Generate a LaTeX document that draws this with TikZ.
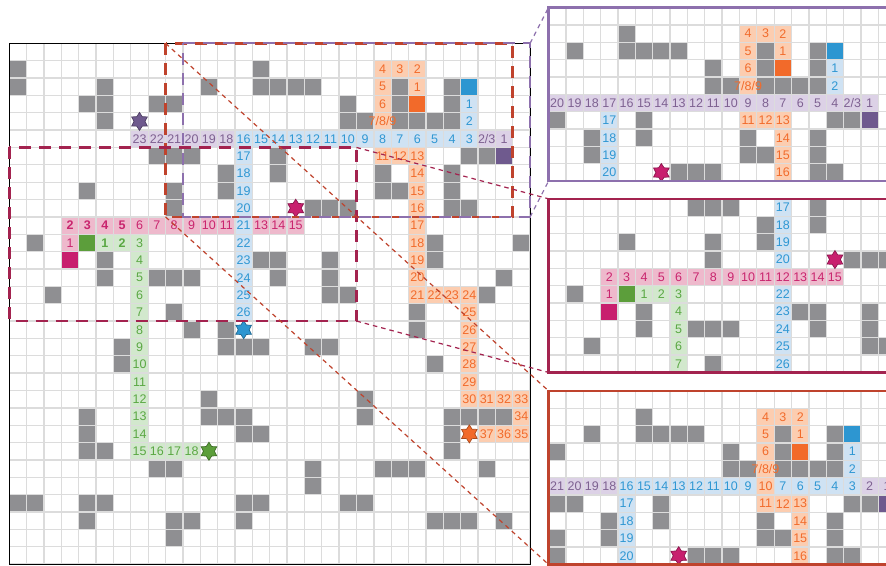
\documentclass[tikz,border=0pt]{standalone}
\usepackage{fontspec}
\setmainfont{Liberation Sans}
\usetikzlibrary{shapes.geometric}

\definecolor{wallgray}{HTML}{8F8F92}
\definecolor{gridgray}{HTML}{DCDCDC}
\definecolor{txpurple}{HTML}{7E6191}
\definecolor{bgpurple}{HTML}{DCD1E6}
\definecolor{fgpurple}{HTML}{6F5A8E}
\definecolor{txblue}{HTML}{2F97D3}
\definecolor{bgblue}{HTML}{CFE2F3}
\definecolor{fgblue}{HTML}{2D96D1}
\definecolor{txorange}{HTML}{F26B2B}
\definecolor{bgorange}{HTML}{FCCDB0}
\definecolor{fgorange}{HTML}{F26A2A}
\definecolor{txcrimson}{HTML}{C9256E}
\definecolor{bgcrimson}{HTML}{EEB9CC}
\definecolor{fgcrimson}{HTML}{C81F6E}
\definecolor{txgreen}{HTML}{5AA843}
\definecolor{bggreen}{HTML}{D2E8CD}
\definecolor{fggreen}{HTML}{5C9E3B}
\definecolor{boxred}{HTML}{BF432D}
\definecolor{boxcrimson}{HTML}{A3234F}
\definecolor{boxpurple}{HTML}{8D70AD}

\newcommand\twothree{2/3}
\newcommand\seveneightnine{7/8/9}

% obstacles (col/row), shared by all views
\def\walls{0/1,14/1,%
0/2,5/2,11/2,14/2,15/2,16/2,17/2,22/2,25/2,%
4/3,5/3,8/3,9/3,19/3,22/3,25/3,%
5/4,19/4,20/4,22/4,23/4,24/4,25/4,%
8/6,9/6,10/6,15/6,26/6,27/6,%
12/7,15/7,21/7,25/7,%
4/8,9/8,12/8,21/8,22/8,25/8,%
9/9,17/9,18/9,19/9,25/9,26/9,%
1/11,24/11,29/11,%
5/12,14/12,15/12,18/12,24/12,%
5/13,8/13,9/13,10/13,15/13,18/13,28/13,%
2/14,18/14,19/14,27/14,%
9/15,23/15,%
10/16,12/16,23/16,%
6/17,12/17,13/17,14/17,17/17,18/17,%
6/18,24/18,%
11/20,20/20,%
4/21,11/21,12/21,13/21,20/21,25/21,26/21,27/21,28/21,%
4/22,13/22,14/22,25/22,%
4/23,5/23,25/23,%
8/24,9/24,17/24,21/24,22/24,23/24,27/24,%
17/25,%
0/26,1/26,4/26,5/26,13/26,14/26,19/26,20/26,%
4/27,9/27,10/27,13/27,24/27,25/27,26/27,28/27,%
9/28}

% main map paths (col/row/label)
\def\mainPurple{7/5/23,8/5/22,9/5/21,10/5/20,11/5/19,12/5/18,27/5/\twothree,28/5/1}
\def\mainBlue{26/3/1,26/4/2,26/5/3,25/5/4,24/5/5,23/5/6,22/5/7,21/5/8,20/5/9,%
19/5/10,18/5/11,17/5/12,16/5/13,15/5/14,14/5/15,13/5/16,13/6/17,13/7/18,13/8/19,%
13/9/20,13/10/21,13/11/22,13/12/23,13/13/24,13/14/25,13/15/26}
\def\mainOrange{23/2/1,23/1/2,22/1/3,21/1/4,21/2/5,21/3/6,21/4/\seveneightnine,%
21/6/11,22/6/12,23/6/13,23/7/14,23/8/15,23/9/16,23/10/17,23/11/18,23/12/19,%
23/13/20,23/14/21,24/14/22,25/14/23,26/14/24,26/15/25,26/16/26,26/17/27,26/18/28,%
26/19/29,26/20/30,27/20/31,28/20/32,29/20/33,29/21/34,29/22/35,28/22/36,27/22/37}
\def\mainCrimson{3/11/1,3/10/\textbf{2},4/10/\textbf{3},5/10/\textbf{4},6/10/\textbf{5},%
7/10/6,8/10/7,9/10/8,10/10/9,11/10/10,12/10/11,14/10/13,15/10/14,16/10/15}
\def\mainGreen{5/11/\textbf{1},6/11/\textbf{2},7/11/3,7/12/4,7/13/5,7/14/6,7/15/7,%
7/16/8,7/17/9,7/18/10,7/19/11,7/20/12,7/21/13,7/22/14,7/23/15,8/23/16,9/23/17,10/23/18}

% top inset paths
\def\topPurple{10/5/20,11/5/19,12/5/18,13/5/17,14/5/16,15/5/15,16/5/14,17/5/13,%
18/5/12,19/5/11,20/5/10,21/5/9,22/5/8,23/5/7,24/5/6,25/5/5,26/5/4,27/5/\twothree,28/5/1}
\def\topBlue{26/3/1,26/4/2,13/6/17,13/7/18,13/8/19,13/9/20}
\def\topOrange{23/2/1,23/1/2,22/1/3,21/1/4,21/2/5,21/3/6,21/4/\seveneightnine,%
21/6/11,22/6/12,23/6/13,23/7/14,23/8/15,23/9/16}

% middle inset paths
\def\midCrimson{3/11/1,3/10/2,4/10/3,5/10/4,6/10/5,7/10/6,8/10/7,9/10/8,10/10/9,%
11/10/10,12/10/11,13/10/12,14/10/13,15/10/14,16/10/15}
\def\midGreen{5/11/1,6/11/2,7/11/3,7/12/4,7/13/5,7/14/6,7/15/7}
\def\midBlue{13/6/17,13/7/18,13/8/19,13/9/20,13/11/22,13/12/23,13/13/24,13/14/25,13/15/26}

% bottom inset paths
\def\botPurple{9/5/21,10/5/20,11/5/19,12/5/18,27/5/2,28/5/1}
\def\botBlue{26/3/1,26/4/2,26/5/3,25/5/4,24/5/5,23/5/6,22/5/7,20/5/9,19/5/10,%
18/5/11,17/5/12,16/5/13,15/5/14,14/5/15,13/5/16,13/6/17,13/7/18,13/8/19,13/9/20}
\def\botOrange{23/2/1,23/1/2,22/1/3,21/1/4,21/2/5,21/3/6,21/4/\seveneightnine,%
21/5/10,21/6/11,22/6/12,23/6/13,23/7/14,23/8/15,23/9/16}

\newcommand\mapwalls{%
  \foreach \c/\r in \walls {\fill[wallgray] (\c,\r) rectangle ++(1,1);}
  \fill[fgpurple]  (28,6) rectangle ++(1,1);
  \fill[fgblue]    (26,2) rectangle ++(1,1);
  \fill[fgorange]  (23,3) rectangle ++(1,1);
  \fill[fgcrimson] (3,12) rectangle ++(1,1);
  \fill[fggreen]   (4,11) rectangle ++(1,1);}
\newcommand\mapgrid{%
  \foreach \i in {0,...,30} {
    \draw[gridline] (\i,0) -- (\i,30);
    \draw[gridline] (0,\i) -- (30,\i);}}
\newcommand\pathfill[2]{%
  \foreach \c/\r/\t in #2 {\fill[#1] (\c,\r) rectangle ++(1,1);}}
\newcommand\pathtext[3]{%
  \foreach \c/\r/\t in #3 {\node[lbl, text=#2] (#1-\c-\r) at (\c+.5,\r+.5) {\t};}}
\newcommand\mapgoals[1]{%
  \node[goal, fill=fgpurple,  draw=fgpurple!70!black]  (#1-goal-purple)  at (7.5,4.5)   {};
  \node[goal, fill=fgblue,    draw=fgblue!70!black]    (#1-goal-blue)    at (13.5,16.5) {};
  \node[goal, fill=fgorange,  draw=fgorange!70!black]  (#1-goal-orange)  at (26.5,22.5) {};
  \node[goal, fill=fgcrimson, draw=fgcrimson!70!black] (#1-goal-crimson) at (16.5,9.5)  {};
  \node[goal, fill=fggreen,   draw=fggreen!70!black]   (#1-goal-green)   at (11.5,23.5) {};}

\begin{document}
\begin{tikzpicture}[
  x=1pt, y=-1pt,
  lbl/.style={font=\fontsize{12.5}{12.5}\selectfont, inner sep=0pt},
  gridline/.style={draw=gridgray, line width=1.3pt},
  goal/.style={shape=star, star points=6, star point ratio=1.65,
               minimum size=18pt, inner sep=0pt, line width=0.7pt},
  zoombox/.style={line width=2.5pt, dash pattern=on 12pt off 8pt},
  zoomlink/.style={line width=1.2pt, dash pattern=on 4.5pt off 4pt},
  frame/.style={line width=2.5pt},
]
\clip (0,0) rectangle (886,565);
\fill[white] (0,0) rectangle (886,565);

% main map
\begin{scope}[shift={(9.3,43.3)}, x=17.36pt, y=-17.36pt]
  \pathfill{bgpurple}{\mainPurple}
  \pathfill{bgblue}{\mainBlue}
  \pathfill{bgorange}{\mainOrange}
  \pathfill{bgcrimson}{\mainCrimson}
  \pathfill{bggreen}{\mainGreen}
  \mapwalls
  \mapgrid
  \pathtext{main}{txpurple}{\mainPurple}
  \pathtext{main}{txblue}{\mainBlue}
  \pathtext{main}{txorange}{\mainOrange}
  \pathtext{main}{txcrimson}{\mainCrimson}
  \pathtext{main}{txgreen}{\mainGreen}
  \mapgoals{main}
  \draw[line width=1.2pt] (0,0) rectangle (30,30);
  % zoomed regions
  \draw[zoombox, draw=boxred] (9,0) rectangle (29,10);
  \draw[zoombox, draw=boxpurple, line width=2pt, dash phase=10pt] (10,0) rectangle (30,10);
  \draw[zoombox, draw=boxcrimson] (0,6) rectangle (20,16);
  \coordinate (red-nw) at (9,0);
  \coordinate (red-sw) at (9,10);
  \coordinate (pur-ne) at (30,0);
  \coordinate (pur-se) at (30,10);
  \coordinate (crm-ne) at (20,6);
  \coordinate (crm-se) at (20,16);
\end{scope}

% top inset
\begin{scope}[shift={(548.5,7.6)}, x=17.36pt, y=-17.36pt, shift={(-10,0)}]
  \begin{scope}
    \clip (10,0) rectangle (30,10);
    \pathfill{bgpurple}{\topPurple}
    \pathfill{bgblue}{\topBlue}
    \pathfill{bgorange}{\topOrange}
    \mapwalls
    \mapgrid
    \pathtext{top}{txpurple}{\topPurple}
    \pathtext{top}{txblue}{\topBlue}
    \pathtext{top}{txorange}{\topOrange}
    \mapgoals{top}
  \end{scope}
  \draw[frame, draw=boxpurple] (10,0) rectangle (31,10);
  \coordinate (top-nw) at (10,0);
  \coordinate (top-sw) at (10,10);
\end{scope}

% middle inset
\begin{scope}[shift={(548.5,198.8)}, x=17.36pt, y=-17.36pt, shift={(0,-6)}]
  \begin{scope}
    \clip (0,6) rectangle (20,16);
    \pathfill{bgcrimson}{\midCrimson}
    \pathfill{bggreen}{\midGreen}
    \pathfill{bgblue}{\midBlue}
    \mapwalls
    \mapgrid
    \pathtext{mid}{txcrimson}{\midCrimson}
    \pathtext{mid}{txgreen}{\midGreen}
    \pathtext{mid}{txblue}{\midBlue}
    \mapgoals{mid}
  \end{scope}
  \draw[frame, draw=boxcrimson] (0,6) rectangle (21,16);
  \coordinate (mid-nw) at (0,6);
  \coordinate (mid-sw) at (0,16);
\end{scope}

% bottom inset
\begin{scope}[shift={(548.5,390.8)}, x=17.36pt, y=-17.36pt, shift={(-9,0)}]
  \begin{scope}
    \clip (9,0) rectangle (29,10);
    \pathfill{bgpurple}{\botPurple}
    \pathfill{bgblue}{\botBlue}
    \pathfill{bgorange}{\botOrange}
    \mapwalls
    \mapgrid
    \pathtext{bot}{txpurple}{\botPurple}
    \pathtext{bot}{txblue}{\botBlue}
    \pathtext{bot}{txorange}{\botOrange}
    \mapgoals{bot}
  \end{scope}
  \draw[frame, draw=boxred] (9,0) rectangle (30,10);
  \coordinate (bot-nw) at (9,0);
  \coordinate (bot-sw) at (9,10);
\end{scope}

% links from regions to insets
\draw[zoomlink, draw=boxpurple]  (pur-ne) -- (top-nw);
\draw[zoomlink, draw=boxpurple]  (pur-se) -- (top-sw);
\draw[zoomlink, draw=boxcrimson] (crm-ne) -- (mid-nw);
\draw[zoomlink, draw=boxcrimson] (crm-se) -- (mid-sw);
\draw[zoomlink, draw=boxred]     (red-nw) -- (bot-nw);
\draw[zoomlink, draw=boxred]     (red-sw) -- (bot-sw);

\end{tikzpicture}
\end{document}
